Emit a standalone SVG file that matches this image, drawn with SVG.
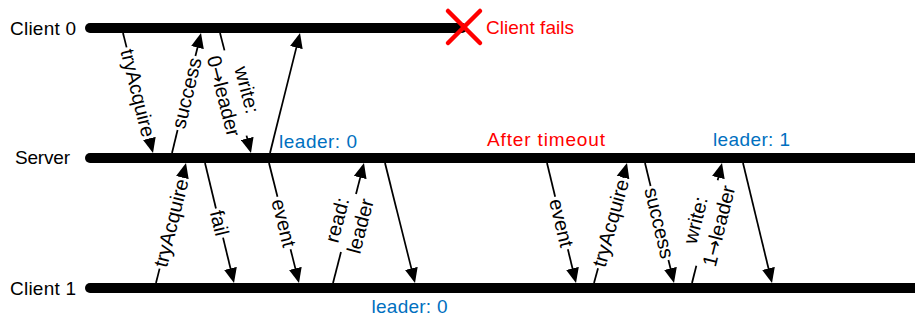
<svg xmlns="http://www.w3.org/2000/svg" width="915" height="320" viewBox="0 0 915 320">
  <style>
    text { font-family: "Liberation Sans", Arial, sans-serif; font-size: 19px; }
    .life { stroke: #000; stroke-width: 10; stroke-linecap: round; fill: none; }
    .msg line { stroke: #000; stroke-width: 1.75; fill: none; }
    .msg text { text-anchor: middle; dominant-baseline: central; fill: #000; font-size: 20px; }
    .msg .arr { font-family: "DejaVu Sans", sans-serif; font-size: 19px; }
    .blue { fill: #0070C0; }
    .red { fill: #FF0000; }
    .fail-mark { stroke: #FF0000; stroke-width: 4.5; stroke-linecap: round; }
  </style>
  <defs>
    <marker id="head" markerWidth="16" markerHeight="14" viewBox="0 -7 16 14" refX="3" refY="0" orient="auto" markerUnits="userSpaceOnUse">
      <path d="M0,-6.5 L15,0 L0,6.5 z" fill="#000"/>
    </marker>
  </defs>

  <rect width="915" height="320" fill="#fff"/>

  <!-- lifelines -->
  <g id="client0">
    <text x="10" y="34.5" textLength="66" lengthAdjust="spacing">Client 0</text>
    <line class="life" x1="90" y1="28" x2="462" y2="28"/>
  </g>
  <g id="server">
    <text x="15" y="163.5" textLength="55" lengthAdjust="spacing">Server</text>
    <line class="life" x1="90" y1="158" x2="925" y2="158"/>
  </g>
  <g id="client1">
    <text x="10" y="294.5" textLength="66" lengthAdjust="spacing">Client 1</text>
    <line class="life" x1="90" y1="288" x2="925" y2="288"/>
  </g>

  <!-- annotations -->
  <g id="client0-failure">
    <line class="fail-mark" x1="448" y1="11" x2="480" y2="43"/>
    <line class="fail-mark" x1="480" y1="11" x2="448" y2="43"/>
    <text class="red" x="486" y="34" textLength="88" lengthAdjust="spacing">Client fails</text>
  </g>
  <g id="state-labels">
    <text class="blue" x="279" y="148" textLength="78" lengthAdjust="spacing">leader: 0</text>
    <text class="red" x="487" y="146" textLength="118" lengthAdjust="spacing">After timeout</text>
    <text class="blue" x="713" y="146" textLength="77" lengthAdjust="spacing">leader: 1</text>
    <text class="blue" x="371.5" y="313" textLength="76" lengthAdjust="spacing">leader: 0</text>
  </g>

  <!-- messages: each drawn along its local x axis from sender to receiver -->
  <g id="connectors" class="msg">
    <!-- Client 0 <-> Server -->
    <g transform="translate(123,33) rotate(75.96)">
      <line x1="0" y1="0" x2="14.85" y2="0"/>
      <line x1="108.85" y1="0" x2="111.69" y2="0" marker-end="url(#head)"/>
      <text x="61.85" y="0">tryAcquire</text>
    </g>
    <g transform="translate(172,153) rotate(-76.41)">
      <line x1="0" y1="0" x2="23.73" y2="0"/>
      <line x1="99.73" y1="0" x2="111.45" y2="0" marker-end="url(#head)"/>
      <text x="61.73" y="0">success</text>
    </g>
    <g transform="translate(220,33) rotate(75.52)">
      <line x1="0" y1="0" x2="17.97" y2="0"/>
      <line x1="105.97" y1="0" x2="111.94" y2="0" marker-end="url(#head)"/>
      <text x="61.97" y="-12">write:</text>
      <text x="61.97" y="12">0<tspan class="arr">→</tspan>leader</text>
    </g>
    <g transform="translate(270,153) rotate(-75.96)">
      <line x1="0" y1="0" x2="111.69" y2="0" marker-end="url(#head)"/>
    </g>

    <!-- Server <-> Client 1 -->
    <g transform="translate(156,283) rotate(-75.96)">
      <line x1="0" y1="0" x2="14.85" y2="0"/>
      <line x1="108.85" y1="0" x2="111.69" y2="0" marker-end="url(#head)"/>
      <text x="61.85" y="0">tryAcquire</text>
    </g>
    <g transform="translate(205,163) rotate(76.41)">
      <line x1="0" y1="0" x2="46.73" y2="0"/>
      <line x1="76.73" y1="0" x2="111.45" y2="0" marker-end="url(#head)"/>
      <text x="61.73" y="0">fail</text>
    </g>
    <g transform="translate(269,163) rotate(75.96)">
      <line x1="0" y1="0" x2="34.85" y2="0"/>
      <line x1="88.85" y1="0" x2="111.69" y2="0" marker-end="url(#head)"/>
      <text x="61.85" y="0">event</text>
    </g>
    <g transform="translate(333,283) rotate(-75.52)">
      <line x1="0" y1="0" x2="31.97" y2="0"/>
      <line x1="91.97" y1="0" x2="111.94" y2="0" marker-end="url(#head)"/>
      <text x="61.97" y="-12">read:</text>
      <text x="61.97" y="12">leader</text>
    </g>
    <g transform="translate(385,163) rotate(75.96)">
      <line x1="0" y1="0" x2="111.69" y2="0" marker-end="url(#head)"/>
    </g>

    <!-- after the timeout -->
    <g transform="translate(547,163) rotate(76.41)">
      <line x1="0" y1="0" x2="34.73" y2="0"/>
      <line x1="88.73" y1="0" x2="111.45" y2="0" marker-end="url(#head)"/>
      <text x="61.73" y="0">event</text>
    </g>
    <g transform="translate(594,283) rotate(-74.62)">
      <line x1="0" y1="0" x2="15.23" y2="0"/>
      <line x1="109.23" y1="0" x2="112.45" y2="0" marker-end="url(#head)"/>
      <text x="62.23" y="0">tryAcquire</text>
    </g>
    <g transform="translate(645,163) rotate(76.41)">
      <line x1="0" y1="0" x2="23.73" y2="0"/>
      <line x1="99.73" y1="0" x2="111.45" y2="0" marker-end="url(#head)"/>
      <text x="61.73" y="0">success</text>
    </g>
    <g transform="translate(692,283) rotate(-75.96)">
      <line x1="0" y1="0" x2="17.85" y2="0"/>
      <line x1="105.85" y1="0" x2="111.69" y2="0" marker-end="url(#head)"/>
      <text x="61.85" y="-12">write:</text>
      <text x="61.85" y="12">1<tspan class="arr">→</tspan>leader</text>
    </g>
    <g transform="translate(743,163) rotate(76.41)">
      <line x1="0" y1="0" x2="111.45" y2="0" marker-end="url(#head)"/>
    </g>
  </g>
</svg>
